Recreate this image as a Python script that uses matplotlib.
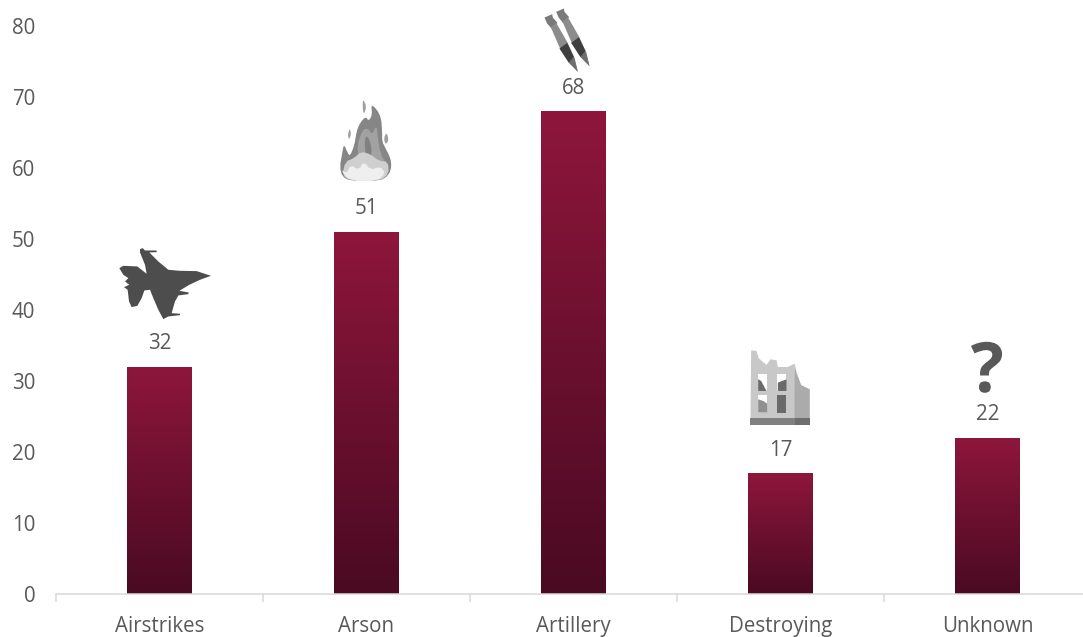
import numpy as np
import matplotlib
matplotlib.use('Agg')
import matplotlib.pyplot as plt
from matplotlib.colors import LinearSegmentedColormap
from matplotlib.patches import Polygon, PathPatch
from matplotlib.textpath import TextPath
from matplotlib.font_manager import FontProperties
from matplotlib.transforms import Affine2D

plt.rcParams['font.family'] = ['Open Sans', 'DejaVu Sans']

# values
categories = ['Airstrikes', 'Arson', 'Artillery', 'Destroying', 'Unknown']
values = [32, 51, 68, 17, 22]
y_ticks = [0, 10, 20, 30, 40, 50, 60, 70, 80]

text_color = '#595959'
bar_cmap = LinearSegmentedColormap.from_list('bar', ['#8E163C', '#4A0A22'])

W, H = 1083, 637
fig = plt.figure(figsize=(W / 100, H / 100), dpi=100)
ax = fig.add_axes([56 / W, 43 / H, (W - 56) / W, 568 / H])

bars = ax.bar(range(len(values)), values, width=0.314, color='none')

# gradient fill, one per bar
grad = np.linspace(0, 1, 256).reshape(-1, 1)
for b in bars:
    im = ax.imshow(grad, cmap=bar_cmap, aspect='auto', zorder=2,
                   extent=(b.get_x(), b.get_x() + b.get_width(), 0, b.get_height()))
    im.set_clip_path(b)

# axis styling
for s in ['top', 'right', 'left']:
    ax.spines[s].set_visible(False)
ax.spines['bottom'].set_color('#D9D9D9')
ax.spines['bottom'].set_linewidth(1.1)
ax.set_yticks(y_ticks)
ax.set_xticks(range(len(categories)))
ax.set_xticklabels(categories)
ax.set_xticks(np.arange(-0.5, 4.6, 1), minor=True)
ax.tick_params(axis='x', which='major', length=0, pad=15.5, labelsize=14.8, labelcolor=text_color)
ax.tick_params(axis='x', which='minor', length=5.5, width=1.1, color='#D9D9D9')
ax.tick_params(axis='y', length=0, pad=15, labelsize=14.8, labelcolor=text_color)

# the picture is cropped just before the last category ends
ax.set_xlim(-0.5, 4.4614)
ax.set_ylim(0, 80)

# value labels
for i, v in enumerate(values):
    ax.annotate(str(v), (i, v), xytext=(0, 16.5), textcoords='offset points',
                ha='center', va='center', fontsize=14.8, color=text_color)


# icons: outlines traced in zoomed picture coords, placed from the top of each bar
def icon(i, anchor, shapes):
    tx, ty = ax.transData.transform((i, values[i]))
    tr = Affine2D().translate(-anchor[0], -anchor[1]).scale(1 / 3, -1 / 3).translate(tx, ty)
    for pts, col in shapes:
        fig.add_artist(Polygon(pts, closed=True, facecolor=col, edgecolor='none', transform=tr))


# corner cutting so the flame does not look faceted
def smooth(pts, n=1):
    p = np.array(pts, dtype=float)
    for _ in range(n):
        q = np.roll(p, -1, axis=0)
        p = np.column_stack([0.75 * p + 0.25 * q, 0.25 * p + 0.75 * q]).reshape(-1, 2)
    return p


def box(x0, y0, x1, y1):
    return [(x0, y0), (x1, y0), (x1, y1), (x0, y1)]


def shift(pts, dx, dy):
    return [(x + dx, y + dy) for x, y in pts]


jet = [(120, 58), (128, 55), (135, 62), (170, 62), (170, 67), (148, 68), (175, 95), (205, 120),
       (240, 123), (290, 124), (333, 138), (300, 150), (268, 165), (238, 183), (266, 188),
       (265, 193), (235, 197), (225, 215), (222, 225), (215, 250), (240, 252), (240, 256),
       (205, 260), (190, 268), (175, 240), (160, 205), (150, 180), (133, 182), (125, 205),
       (112, 228), (95, 232), (87, 215), (83, 180), (72, 172), (88, 165), (75, 155), (85, 145),
       (70, 135), (58, 115), (70, 108), (112, 110), (140, 132), (135, 105), (120, 68)]
icon(0, (178.5, 411), [(jet, '#4D4D4D')])

flame_outer = [(35, 245), (28, 215), (35, 175), (40, 148), (50, 170), (58, 185), (72, 150), (78, 110),
               (88, 85), (105, 65), (115, 78), (125, 60), (122, 28), (140, 45), (152, 70), (155, 110),
               (155, 140), (165, 160), (180, 190), (183, 215), (175, 240), (150, 258), (60, 258)]
flame_tip = [(98, 12), (108, 35), (100, 60), (96, 35)]
flame_left = [(58, 100), (62, 120), (55, 135), (52, 118)]
flame_right = [(168, 112), (175, 135), (165, 150), (160, 130)]
flame_mid = [(80, 150), (96, 105), (112, 100), (125, 120), (138, 90), (142, 130), (150, 175),
             (165, 205), (110, 215), (85, 190)]
flame_streak = [(105, 120), (118, 135), (125, 175), (112, 195), (102, 160)]
flame_light = [(45, 200), (70, 190), (92, 170), (120, 178), (145, 198), (172, 200), (175, 235),
               (150, 258), (60, 258), (35, 240)]
flame_pale = [(30, 225), (50, 235), (60, 210), (85, 225), (100, 200), (120, 225), (150, 215),
              (165, 235), (140, 258), (60, 258)]
icon(1, (108, 411), [(smooth(flame_outer), '#868686'), (smooth(flame_tip), '#A0A0A0'),
                     (smooth(flame_left), '#A0A0A0'), (smooth(flame_right), '#A0A0A0'),
                     (smooth(flame_mid), '#A2A2A2'), (smooth(flame_streak), '#808080'),
                     (smooth(flame_light), '#CFCFCF'), (smooth(flame_pale), '#EFEFEF')])

bomb_body = [(127, 215), (105, 190), (75, 148), (52, 95), (46, 82), (62, 68), (72, 85), (95, 125), (118, 175)]
bomb_band = [(72, 145), (95, 128), (115, 170), (100, 188)]
bomb_nose = [(100, 188), (115, 170), (127, 215)]
bomb_fin = [(27, 52), (50, 42), (52, 52), (66, 68), (48, 85), (35, 70)]
bomb_shapes = []
for dx, dy in [(0, 0), (35, -17)]:
    bomb_shapes += [(shift(bomb_fin, dx, dy), '#7A7A7A'), (shift(bomb_body, dx, dy), '#8C8C8C'),
                    (shift(bomb_band, dx, dy), '#3F3F3F'), (shift(bomb_nose, dx, dy), '#6E6E6E')]
icon(2, (114, 333), bomb_shapes)

wall = [(32, 18), (48, 20), (55, 42), (78, 62), (90, 45), (108, 48), (112, 68), (142, 68), (162, 58),
        (165, 225), (30, 225)]
wall_side = [(162, 58), (168, 85), (182, 122), (208, 135), (208, 225), (162, 225)]
icon(3, (120, 387), [(wall, '#C8C8C8'), (wall_side, '#ABABAB'),
                     (box(30, 222, 165, 242), '#808080'), (box(165, 222, 210, 242), '#6E6E6E'),
                     (box(52, 88, 80, 140), '#FFFFFF'), (box(110, 88, 138, 140), '#FFFFFF'),
                     (box(52, 152, 80, 205), '#FFFFFF'),
                     ([(53, 105), (62, 110), (78, 140), (53, 140)], '#6A6A6A'),
                     ([(112, 115), (138, 105), (138, 140), (112, 140)], '#6A6A6A'),
                     ([(53, 165), (68, 170), (80, 178), (80, 205), (53, 205)], '#909090'),
                     (box(110, 152, 138, 205), '#6A6A6A')])

# question mark icon over the last bar, drawn as a shape like the other icons
mark = TextPath((0, 0), '?', size=70, prop=FontProperties(family='Open Sans', weight='bold'))
box_q = mark.get_extents()
tx, ty = ax.transData.transform((4, values[4]))
q_tr = Affine2D().translate(-(box_q.x0 + box_q.x1) / 2, -box_q.y0).scale(51 / box_q.height).translate(tx - 1, ty + 45)
fig.add_artist(PathPatch(mark, facecolor='#595959', edgecolor='none', transform=q_tr))

fig.savefig('out.png', dpi=100)
